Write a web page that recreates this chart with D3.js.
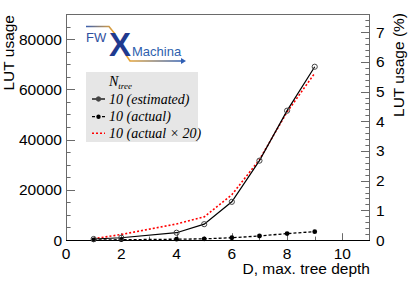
<!DOCTYPE html>
<html>
<head>
<meta charset="utf-8">
<script src="https://cdn.jsdelivr.net/npm/d3@7"></script>
<style>
  body { margin: 0; background: #fff; }
  svg { display: block; }
</style>
</head>
<body>
<svg id="chart" width="411" height="283"></svg>
<script>
// tree depth D
var depth = [1, 2, 4, 5, 6, 7, 8, 9];
// LUT usage, estimated / actual / actual x 20
var lutEstimated = [400, 900, 2900, 6300, 15200, 31600, 51500, 69000];
var lutActual = [25, 110, 320, 460, 900, 1600, 2550, 3320];
var lutActual20 = [500, 2200, 6400, 9200, 18000, 32000, 51000, 66400];
var xTicks = [0, 2, 4, 6, 8, 10];
var yTicks = [0, 20000, 40000, 60000, 80000];
var pctTicks = [0, 1, 2, 3, 4, 5, 6, 7];
var totalLut = 1182240;

var margin = { left: 66, right: 41, top: 14, bottom: 43 };
var width = 411, height = 283;
var frameCol = "#6a6a6a";

var svg = d3.select("#chart");

var x = d3.scaleLinear().domain([0, 11]).range([margin.left, width - margin.right]);
var y = d3.scaleLinear().domain([0, 90000]).range([height - margin.bottom, margin.top]);
var yPct = d3.scaleLinear().domain([0, 90000 / totalLut * 100]).range([height - margin.bottom, margin.top]);

var x0 = x.range()[0], x1 = x.range()[1], y0 = y.range()[0], y1 = y.range()[1];

// frame
svg.append("rect")
    .attr("x", x0 + 0.5).attr("y", y1 + 0.5)
    .attr("width", x1 - x0 - 1).attr("height", y0 - y1)
    .attr("fill", "none").attr("stroke", frameCol);

// ticks (ROOT style, inward)
var tickG = svg.append("g").attr("stroke", frameCol).attr("stroke-width", 1);
d3.range(0, 90001, 5000).forEach(function (v) {
    var len = v % 20000 === 0 ? 9 : 4.6;
    var yy = Math.round(y(v)) + 0.5;
    tickG.append("line").attr("x1", x0).attr("x2", x0 + len).attr("y1", yy).attr("y2", yy);
});
d3.range(0, 7.61, 0.2).forEach(function (v) {
    var major = Math.abs(v - Math.round(v)) < 1e-6;
    var len = major ? 9 : 4.6;
    var yy = Math.round(yPct(v)) + 0.5;
    tickG.append("line").attr("x1", x1).attr("x2", x1 - len).attr("y1", yy).attr("y2", yy);
});
d3.range(0, 11, 1).forEach(function (v) {
    var len = v % 2 === 0 ? 6.8 : 3.4;
    var xx = Math.round(x(v)) + 0.5;
    tickG.append("line").attr("x1", xx).attr("x2", xx).attr("y1", y0).attr("y2", y0 - len);
});

// bottom axis line
svg.append("line").attr("x1", x0).attr("x2", x1).attr("y1", y0 + 0.5).attr("y2", y0 + 0.5)
    .attr("stroke", "#000");

// tick labels
var font = "Liberation Sans, Arial, Helvetica, sans-serif";
svg.append("g").selectAll("text").data(yTicks).join("text")
    .attr("x", 62).attr("y", function (d) { return y(d) + 5.5; })
    .attr("text-anchor", "end").attr("font-family", font).attr("font-size", 15.5)
    .text(function (d) { return d; });
svg.append("g").selectAll("text").data(pctTicks).join("text")
    .attr("x", 376).attr("y", function (d) { return yPct(d) + 5.5; })
    .attr("font-family", font).attr("font-size", 15.5)
    .text(function (d) { return d; });
svg.append("g").selectAll("text").data(xTicks).join("text")
    .attr("x", function (d) { return x(d); }).attr("y", 258.5)
    .attr("text-anchor", "middle").attr("font-family", font).attr("font-size", 15.5)
    .text(function (d) { return d; });

// axis titles
svg.append("text").attr("transform", "translate(14,15) rotate(-90)")
    .attr("text-anchor", "end").attr("font-family", font).attr("font-size", 15.5)
    .text("LUT usage");
svg.append("text").attr("transform", "translate(404,13) rotate(-90)")
    .attr("text-anchor", "end").attr("font-family", font).attr("font-size", 15.5)
    .text("LUT usage (%)");
svg.append("text").attr("x", 370).attr("y", 274)
    .attr("text-anchor", "end").attr("font-family", font).attr("font-size", 15.5)
    .text("D, max. tree depth");

// data
function series(vals) {
    return depth.map(function (d, i) { return [d, vals[i]]; });
}
var line = d3.line().x(function (d) { return x(d[0]); }).y(function (d) { return y(d[1]); });

svg.append("path").datum(series(lutActual20)).attr("d", line)
    .attr("fill", "none").attr("stroke", "#ff0000").attr("stroke-width", 1.6)
    .attr("stroke-dasharray", "2,2");

svg.append("path").datum(series(lutActual)).attr("d", line)
    .attr("fill", "none").attr("stroke", "#000").attr("stroke-width", 1.3)
    .attr("stroke-dasharray", "3,2");
svg.append("g").selectAll("circle").data(series(lutActual)).join("circle")
    .attr("cx", function (d) { return x(d[0]); }).attr("cy", function (d) { return y(d[1]); })
    .attr("r", 2.4).attr("fill", "#000");

svg.append("path").datum(series(lutEstimated)).attr("d", line)
    .attr("fill", "none").attr("stroke", "#000").attr("stroke-width", 1.2);
svg.append("g").selectAll("circle").data(series(lutEstimated)).join("circle")
    .attr("cx", function (d) { return x(d[0]); }).attr("cy", function (d) { return y(d[1]); })
    .attr("r", 2.6).attr("fill", "none").attr("stroke", "#444").attr("stroke-width", 1);

// legend
var serif = "Liberation Serif, Times New Roman, serif";
var leg = svg.append("g");
leg.append("rect").attr("x", 86).attr("y", 72).attr("width", 112).attr("height", 70)
    .attr("fill", "#e6e6e6");
var head = leg.append("text").attr("x", 109).attr("y", 86)
    .attr("font-family", serif).attr("font-style", "italic").attr("font-size", 14);
head.append("tspan").text("N");
head.append("tspan").attr("font-size", 9).attr("dy", 3).text("tree");

var legRows = [
    { label: "10 (estimated)", cy: 99, color: "#000", dash: null, mark: "open" },
    { label: "10 (actual)", cy: 116.7, color: "#000", dash: "3,2", mark: "dot" },
    { label: "10 (actual \u00d7 20)", cy: 133.3, color: "#ff0000", dash: "2,2", mark: null }
];
legRows.forEach(function (r) {
    leg.append("line").attr("x1", 92).attr("x2", 105).attr("y1", r.cy).attr("y2", r.cy)
        .attr("stroke", r.color).attr("stroke-width", r.mark ? 1.3 : 1.6)
        .attr("stroke-dasharray", r.dash);
    if (r.mark === "open") {
        leg.append("circle").attr("cx", 98.5).attr("cy", r.cy).attr("r", 2.2)
            .attr("fill", "#444").attr("stroke", "#444");
    } else if (r.mark === "dot") {
        leg.append("circle").attr("cx", 98.5).attr("cy", r.cy).attr("r", 2.2).attr("fill", "#000");
    }
    leg.append("text").attr("x", 109).attr("y", r.cy + 4.5)
        .attr("font-family", serif).attr("font-style", "italic").attr("font-size", 14)
        .text(r.label);
});

// FWXMachina logo
var defs = svg.append("defs");
var g1 = defs.append("linearGradient").attr("id", "gTop").attr("x1", "0%").attr("x2", "100%");
g1.append("stop").attr("offset", "0%").attr("stop-color", "#3a5fb0");
g1.append("stop").attr("offset", "100%").attr("stop-color", "#f0a830");
var g2 = defs.append("linearGradient").attr("id", "gBot").attr("x1", "0%").attr("x2", "100%");
g2.append("stop").attr("offset", "0%").attr("stop-color", "#f0a830");
g2.append("stop").attr("offset", "100%").attr("stop-color", "#2f5fb5");

var logo = svg.append("g");
logo.append("path").attr("d", "M86,26.5 L109,26.5 L115,34")
    .attr("fill", "none").attr("stroke", "url(#gTop)").attr("stroke-width", 1.6);
logo.append("path").attr("d", "M126,55 L130,61 L183,61")
    .attr("fill", "none").attr("stroke", "url(#gBot)").attr("stroke-width", 1.6);
logo.append("path").attr("d", "M181,58 L186,61 L181,64 Z").attr("fill", "#2f5fb5");
logo.append("text").attr("x", 86).attr("y", 42)
    .attr("font-family", font).attr("font-size", 13).attr("fill", "#2f4fa0").text("FW");
logo.append("text").attr("x", 109).attr("y", 56)
    .attr("font-family", font).attr("font-weight", "bold").attr("font-size", 33)
    .attr("fill", "#1f3a8f").text("X");
logo.append("text").attr("x", 132).attr("y", 56)
    .attr("font-family", font).attr("font-size", 13).attr("fill", "#2f5fae").text("Machina");
</script>
</body>
</html>
